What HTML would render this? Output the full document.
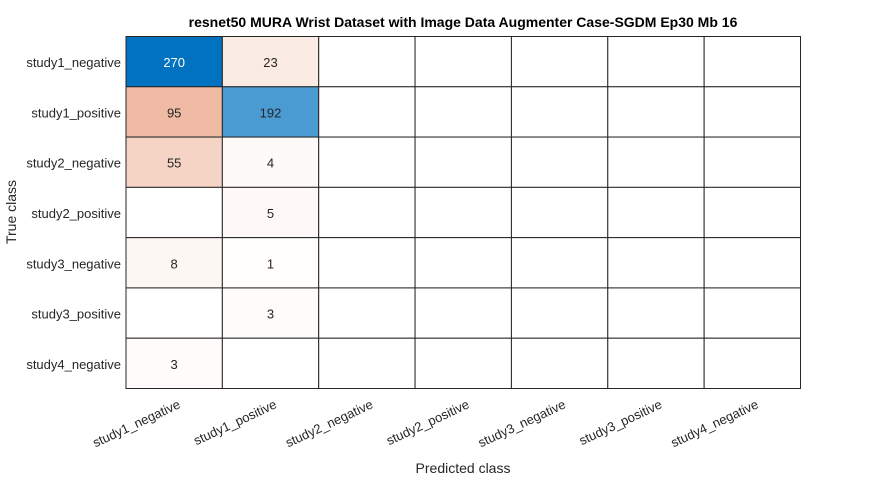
<!DOCTYPE html>
<html><head><meta charset="utf-8"><style>
body{margin:0;background:#fff;width:886px;height:478px;overflow:hidden}
svg{font-family:"Liberation Sans",Arial,sans-serif}
</style></head><body>
<svg id="chart" width="886" height="478" xmlns="http://www.w3.org/2000/svg">
<text x="463" y="27" text-anchor="middle" font-size="14" font-weight="bold" fill="#000">resnet50 MURA Wrist Dataset with Image Data Augmenter Case-SGDM Ep30 Mb 16</text>
<g id="cells"></g>
<g id="labels"></g>
<text x="463" y="473" text-anchor="middle" font-size="14" fill="#262626">Predicted class</text>
<text transform="translate(16,212) rotate(-90)" text-anchor="middle" font-size="14" fill="#262626">True class</text>
</svg>
<script>
const trueClasses = ["study1_negative","study1_positive","study2_negative","study2_positive","study3_negative","study3_positive","study4_negative"];
const predClasses = ["study1_negative","study1_positive","study2_negative","study2_positive","study3_negative","study3_positive","study4_negative"];
const counts = [
 [270,23,0,0,0,0,0],
 [95,192,0,0,0,0,0],
 [55,4,0,0,0,0,0],
 [0,5,0,0,0,0,0],
 [8,1,0,0,0,0,0],
 [0,3,0,0,0,0,0],
 [3,0,0,0,0,0,0]
];
const NS="http://www.w3.org/2000/svg";
const L=126,T=36.5,R=800.5,B=388.5;
const cw=(R-L)/predClasses.length, ch=(B-T)/trueClasses.length;
const xPos=j=>L+j*cw, yPos=i=>T+i*ch;
let mx=0;counts.forEach(r=>r.forEach(v=>{if(v>mx)mx=v;}));
function col(v,diag){
  if(!v) return "#fff";
  let t=v/mx;
  if(diag){return `rgb(${Math.round(255-t*255)},${Math.round(255-t*141)},${Math.round(255-t*63)})`;}
  t=Math.pow(t,0.85);
  return `rgb(${Math.round(255-t*40)},${Math.round(255-t*165)},${Math.round(255-t*220)})`;
}
const cells=document.getElementById('cells');
counts.forEach((row,i)=>row.forEach((v,j)=>{
  const r=document.createElementNS(NS,'rect');
  
  
  r.setAttribute('x',xPos(j));r.setAttribute('y',yPos(i));
  r.setAttribute('width',cw);r.setAttribute('height',ch);
  r.setAttribute('fill',col(v,i===j));r.setAttribute('stroke','#262626');r.setAttribute('stroke-width','1');
  cells.appendChild(r);
  if(v){
    const t=document.createElementNS(NS,'text');
    
    
    t.setAttribute('x',xPos(j)+cw/2);t.setAttribute('y',yPos(i)+ch/2+5.5);
    t.setAttribute('text-anchor','middle');t.setAttribute('font-size','13');
    t.setAttribute('fill',(i===j&&v/mx>0.8)?'#fff':'#262626');
    t.textContent=v;cells.appendChild(t);
  }
}));
const lab=document.getElementById('labels');
trueClasses.forEach((c,i)=>{
  const t=document.createElementNS(NS,'text');
  
  
  t.setAttribute('x',L-5);t.setAttribute('y',yPos(i)+ch/2+5.5);
  t.setAttribute('text-anchor','end');t.setAttribute('font-size','13');t.setAttribute('fill','#262626');
  t.textContent=c;lab.appendChild(t);
});
predClasses.forEach((c,j)=>{
  const t=document.createElementNS(NS,'text');
  
  
  const x=xPos(j)+cw/2+7,y=B+19;
  t.setAttribute('transform',`translate(${x},${y}) rotate(-25)`);
  t.setAttribute('text-anchor','end');t.setAttribute('font-size','13');t.setAttribute('fill','#262626');
  t.textContent=c;lab.appendChild(t);
});
</script>
</body></html>
